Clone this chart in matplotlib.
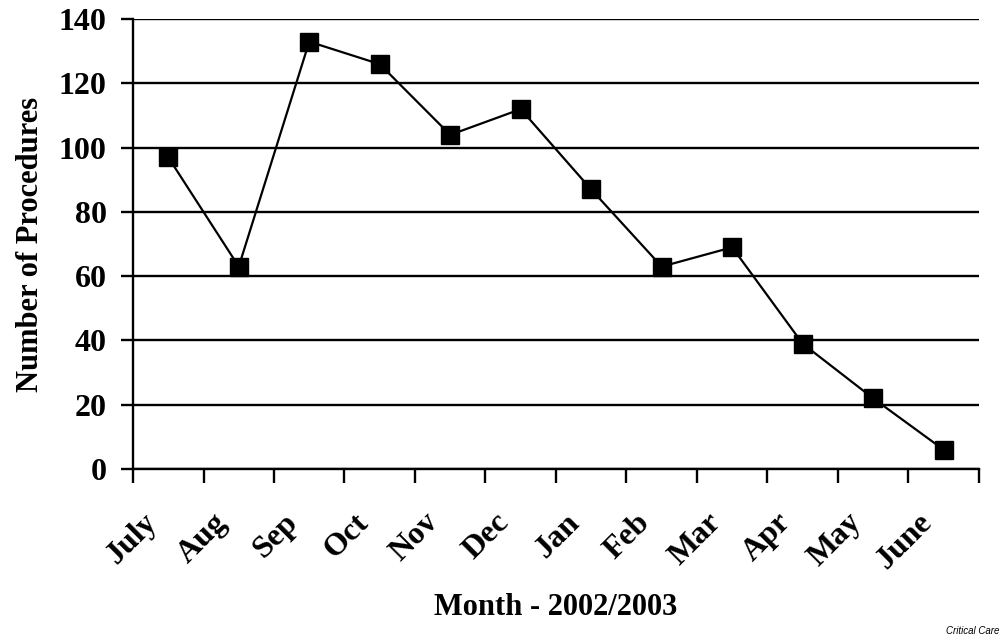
import numpy as np
import matplotlib.pyplot as plt
from matplotlib.ticker import FixedLocator
from matplotlib.transforms import ScaledTranslation

months = ['July', 'Aug', 'Sep', 'Oct', 'Nov', 'Dec', 'Jan', 'Feb', 'Mar', 'Apr', 'May', 'June']
procedures = [97, 63, 133, 126, 104, 112, 87, 63, 69, 39, 22, 6]
yticks = [0, 20, 40, 60, 80, 100, 120, 140]

plt.rcParams['font.family'] = ['Liberation Serif', 'DejaVu Serif']
plt.rcParams['font.weight'] = 'bold'

fig = plt.figure(figsize=(10.04, 6.39), dpi=100)
ax = fig.add_axes([0.1325, 0.266, 0.8425, 0.704])

x = np.arange(len(months))
ax.plot(x, procedures, color='k', linewidth=1.6, marker='s', markersize=13, zorder=3)

ax.set_xlim(-0.5, len(months) - 0.5)
ax.set_ylim(0, 140)
ax.set_yticks(yticks)
ax.yaxis.grid(True, color='k', linewidth=1.7)
ax.set_axisbelow(True)

# month labels sit between the boundary ticks
ax.set_xticks(x)
ax.set_xticklabels(months, rotation=45, ha='right', va='top', rotation_mode='anchor')
ax.xaxis.set_minor_locator(FixedLocator(np.arange(-0.5, len(months), 1)))
ax.tick_params(axis='x', which='major', length=0, pad=28)
ax.tick_params(axis='x', which='minor', length=10, width=1.7)
ax.tick_params(axis='y', length=9, width=1.7, pad=10)
ax.tick_params(labelsize=23)
shift = ScaledTranslation(-0.26, 0, fig.dpi_scale_trans)
for lab in ax.get_xticklabels():
    lab.set_transform(lab.get_transform() + shift)

for s in ['top', 'right']:
    ax.spines[s].set_visible(False)
for s in ['left', 'bottom']:
    ax.spines[s].set_linewidth(1.7)

ax.set_ylabel('Number of Procedures', fontsize=22, fontweight='bold', labelpad=10)
ax.set_xlabel('Month - 2002/2003', fontsize=22, fontweight='bold', labelpad=13)

fig.text(0.995, 0.005, 'Critical Care', fontsize=7, style='italic', fontweight='normal',
         family='Liberation Sans', ha='right', va='bottom')

fig.savefig('out.png', dpi=100)
